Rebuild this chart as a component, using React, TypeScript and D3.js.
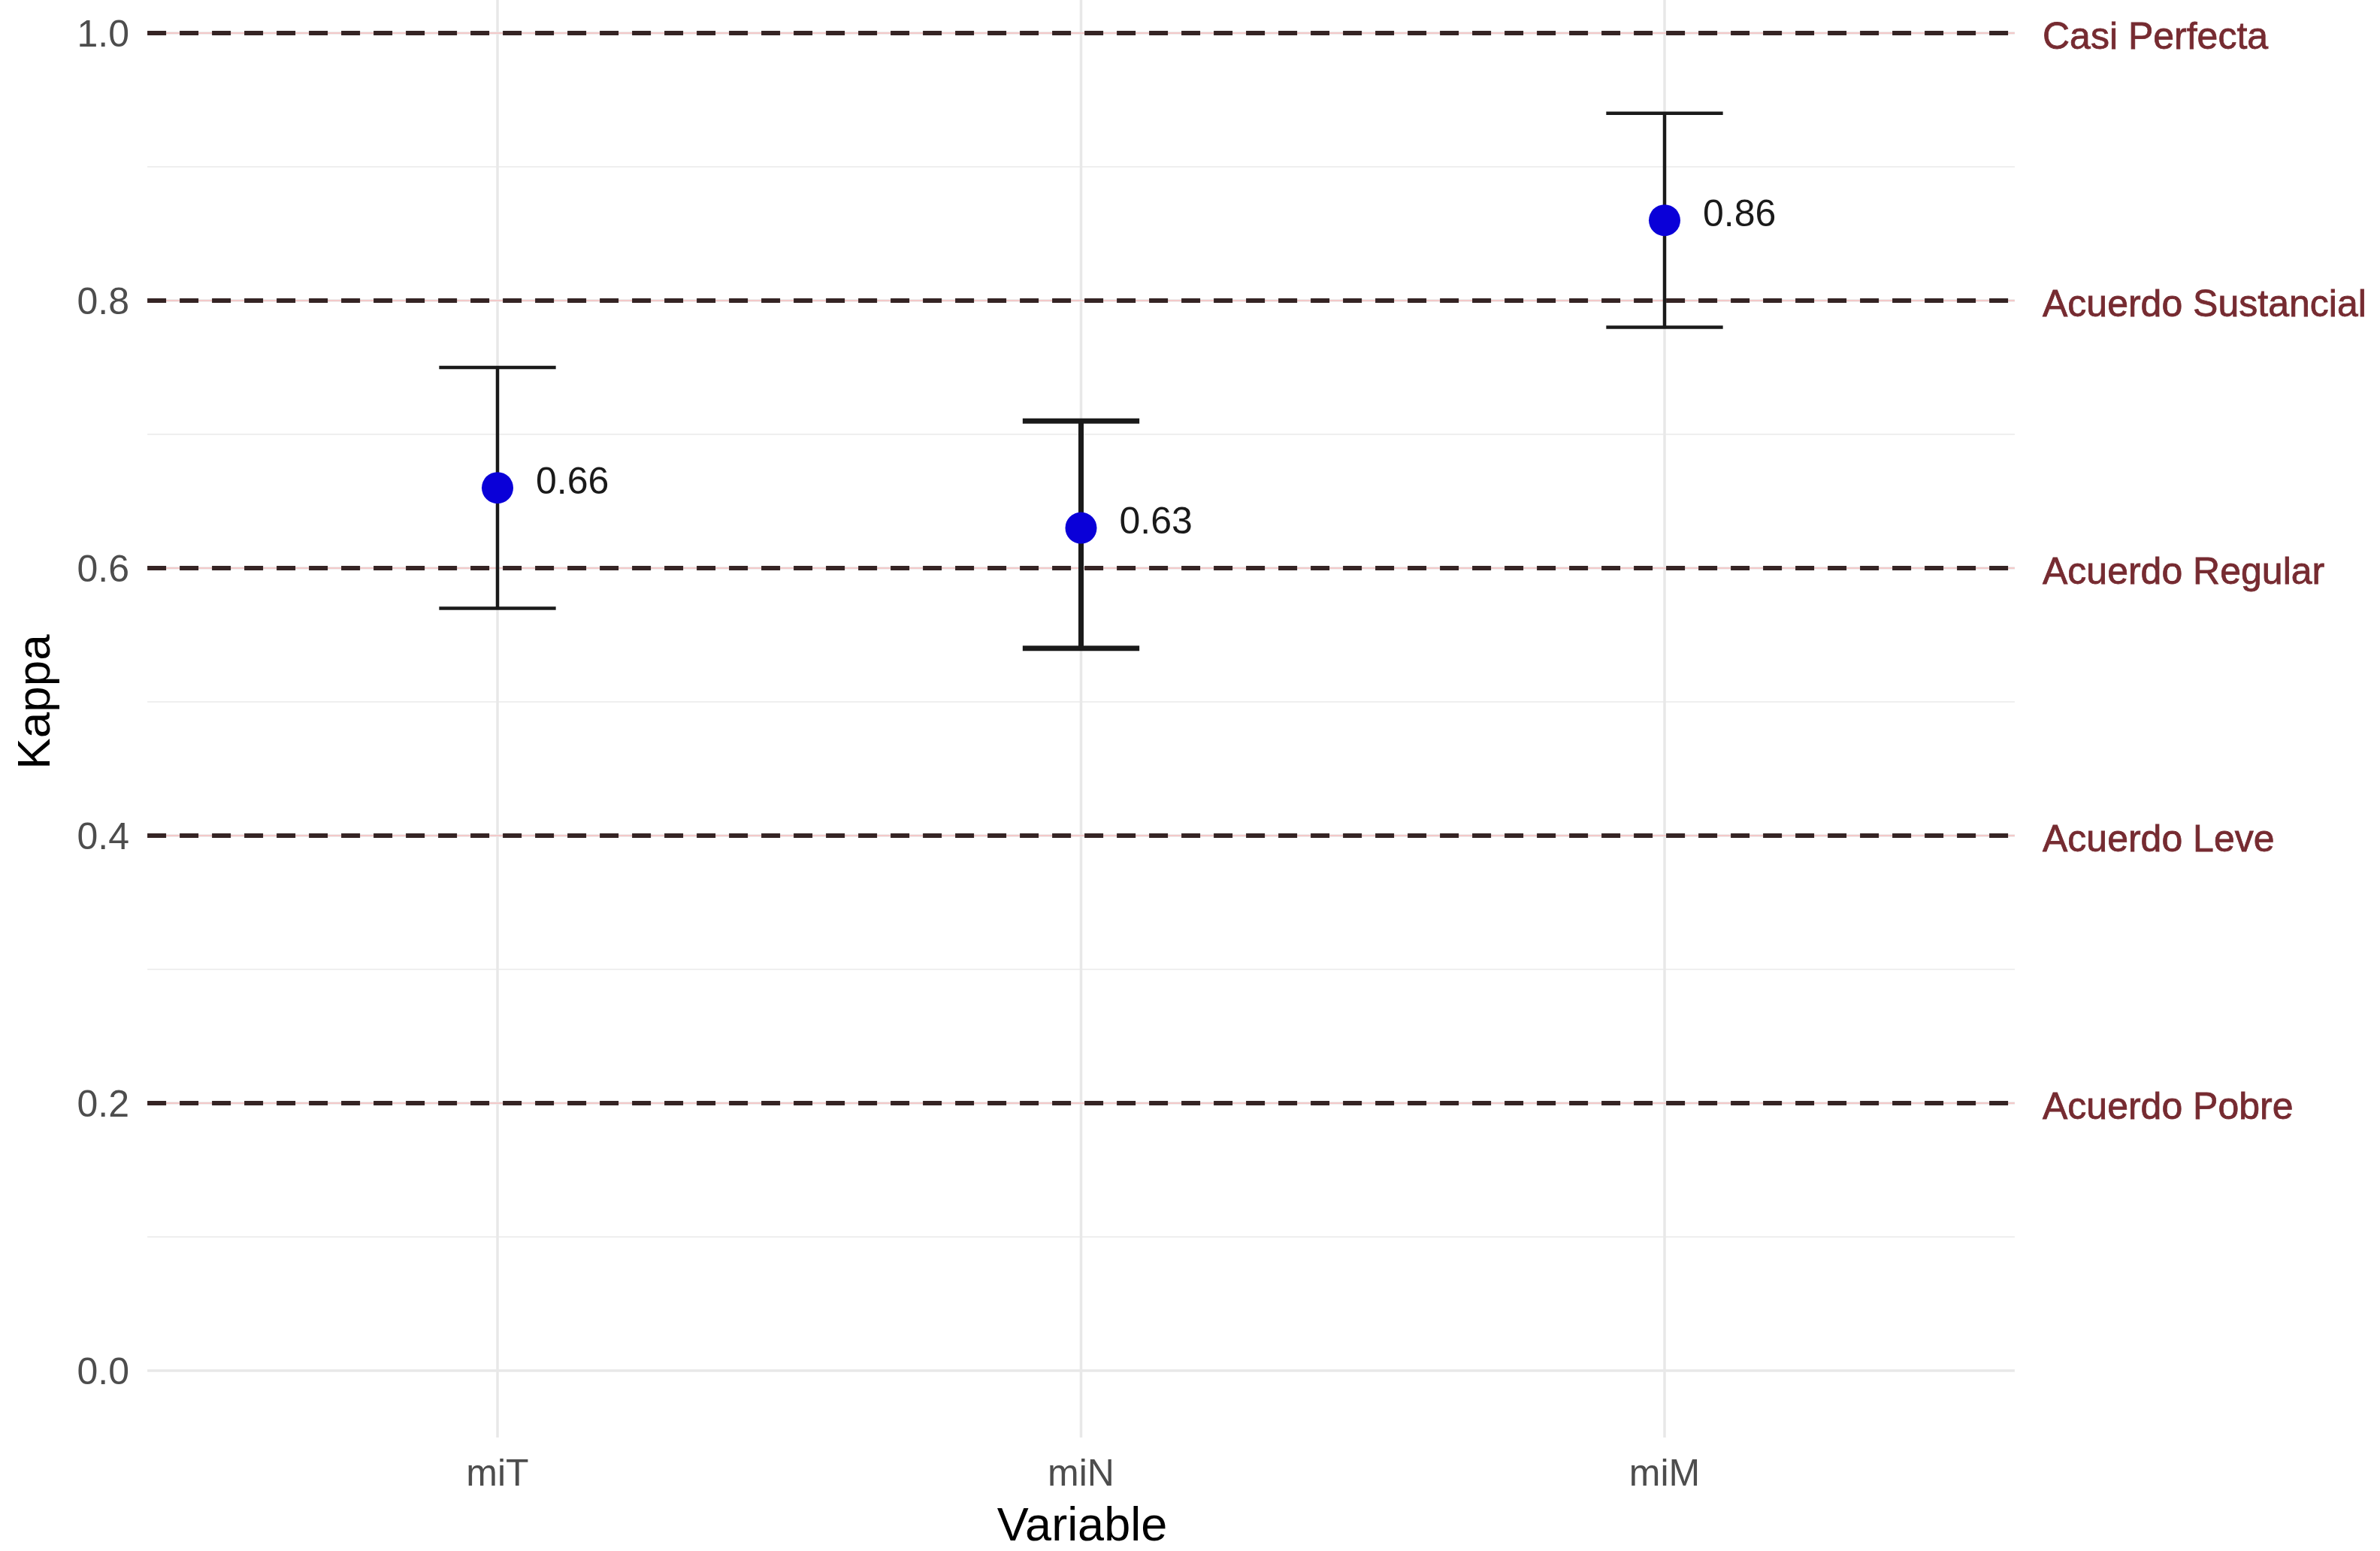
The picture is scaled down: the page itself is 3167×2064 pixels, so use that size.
import React from "react";
import * as d3 from "d3";

const categories = ["miT", "miN", "miM"];
const kappaValues = [0.66, 0.63, 0.86];
const lowerCI = [0.57, 0.54, 0.78];
const upperCI = [0.75, 0.71, 0.94];
const barWeights = [4.5, 7, 4.5];
const yTicks = [0.0, 0.2, 0.4, 0.6, 0.8, 1.0];
const yMinorTicks = [0.1, 0.3, 0.5, 0.7, 0.9];
const refValues = [1.0, 0.8, 0.6, 0.4, 0.2];
const refLabels = ["Casi Perfecta", "Acuerdo Sustancial", "Acuerdo Regular", "Acuerdo Leve", "Acuerdo Pobre"];

const W = 3167;
const H = 2064;
const FONT = "'Liberation Sans', Arial, Helvetica, sans-serif";

export default function App() {
  const y = d3.scaleLinear().domain([0, 1]).range([1824, 44]);
  const x = d3.scalePoint<string>().domain(categories).range([662, 2215]);
  const step = x.step();
  const panelLeft = (x(categories[0]) as number) - 0.6 * step;
  const panelRight = (x(categories[categories.length - 1]) as number) + 0.6 * step;
  const panelTop = y(1.05);
  const panelBottom = y(-0.05);
  const capHalf = 0.1 * step;

  return (
    <div style={{ position: "absolute", left: 0, top: 0 }}>
      <svg width={W} height={H} style={{ display: "block", background: "#fff" }}>
        <rect x={0} y={0} width={W} height={H} fill="#fff" />
        {/* minor grid */}
        {yMinorTicks.map((t) => (
          <line key={"mn" + t} x1={panelLeft} x2={panelRight} y1={y(t)} y2={y(t)} stroke="#efefef" strokeWidth={2} />
        ))}
        {/* major grid */}
        {yTicks.map((t) => (
          <line key={"mj" + t} x1={panelLeft} x2={panelRight} y1={y(t)} y2={y(t)} stroke="#e8e8e8" strokeWidth={3.5} />
        ))}
        {categories.map((c) => (
          <line key={"vg" + c} x1={x(c)} x2={x(c)} y1={panelTop} y2={panelBottom} stroke="#e8e8e8" strokeWidth={3.5} />
        ))}
        {/* reference lines */}
        {refValues.map((v, i) => (
          <g key={"ref" + i}>
            <line x1={panelLeft} x2={panelRight} y1={y(v)} y2={y(v)} stroke="#f3c9c9" strokeWidth={2} />
            <line x1={panelLeft} x2={panelRight} y1={y(v)} y2={y(v)} stroke="#352424" strokeWidth={6} strokeDasharray="25 18" />
            <text
              x={2718}
              y={y(v) + 3}
              dy="0.35em"
              fontFamily={FONT}
              fontSize={50}
              fill="#762b31"
              stroke="#762b31"
              strokeWidth={0.8}
            >
              {refLabels[i]}
            </text>
          </g>
        ))}
        {/* error bars */}
        {categories.map((c, i) => {
          const cx = x(c) as number;
          return (
            <g key={"eb" + c} stroke="#1a1a1a" strokeWidth={barWeights[i]} fill="none">
              <line x1={cx} x2={cx} y1={y(upperCI[i])} y2={y(lowerCI[i])} />
              <line x1={cx - capHalf} x2={cx + capHalf} y1={y(upperCI[i])} y2={y(upperCI[i])} />
              <line x1={cx - capHalf} x2={cx + capHalf} y1={y(lowerCI[i])} y2={y(lowerCI[i])} />
            </g>
          );
        })}
        {/* points */}
        {categories.map((c, i) => (
          <circle key={"pt" + c} cx={x(c)} cy={y(kappaValues[i])} r={21} fill="#0a00d8" />
        ))}
        {/* value labels */}
        {categories.map((c, i) => (
          <text
            key={"vl" + c}
            x={(x(c) as number) + 51}
            y={y(kappaValues[i]) - 10}
            dy="0.35em"
            fontFamily={FONT}
            fontSize={50}
            fill="#1a1a1a"
          >
            {kappaValues[i].toFixed(2)}
          </text>
        ))}
        {/* y tick labels */}
        {yTicks.map((t) => (
          <text
            key={"yt" + t}
            x={172}
            y={y(t)}
            dy="0.35em"
            textAnchor="end"
            fontFamily={FONT}
            fontSize={50}
            fill="#4d4d4d"
          >
            {t.toFixed(1)}
          </text>
        ))}
        {/* x tick labels */}
        {categories.map((c) => (
          <text
            key={"xt" + c}
            x={x(c)}
            y={1959}
            dy="0.35em"
            textAnchor="middle"
            fontFamily={FONT}
            fontSize={50}
            fill="#4d4d4d"
          >
            {c}
          </text>
        ))}
        {/* axis titles */}
        <text x={1440} y={2028} dy="0.35em" textAnchor="middle" fontFamily={FONT} fontSize={63} fill="#000">
          Variable
        </text>
        <text
          transform={`translate(44, ${(y(0) + y(1)) / 2}) rotate(-90)`}
          textAnchor="middle"
          dy="0.35em"
          fontFamily={FONT}
          fontSize={62}
          fill="#000"
        >
          Kappa
        </text>
      </svg>
    </div>
  );
}
